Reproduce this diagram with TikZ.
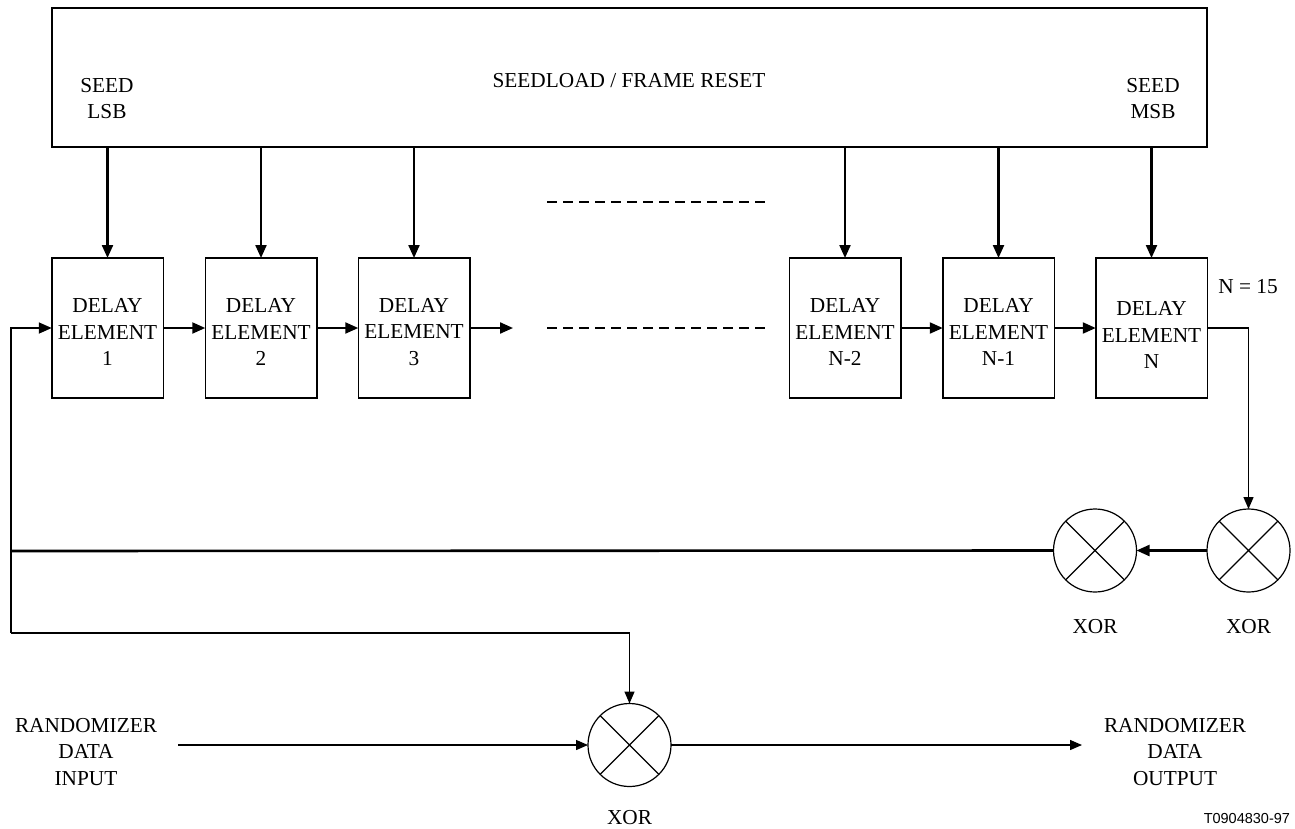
\documentclass[tikz,border=0pt]{standalone}
\usepackage{fontspec}
\setmainfont{Liberation Serif}
\newfontfamily\tagfont{Liberation Sans}
\usetikzlibrary{arrows.meta}

\begin{document}
\begin{tikzpicture}[x=1pt,y=-1pt,
  every node/.style={font=\fontsize{21.3}{26.7}\selectfont, align=center, inner sep=0pt, outer sep=0pt},
  block/.style={draw, line width=1.5pt, minimum width=111.5pt, minimum height=140pt},
  xorgate/.style={draw, circle, line width=1.2pt, minimum size=83pt},
  bigtip/.style={-{Triangle[length=13pt,width=11pt]}},
  smalltip/.style={-{Triangle[length=12pt,width=10pt]}},
  heavy/.style={line width=2.2pt},
  light/.style={line width=1.4pt}
]
\useasboundingbox (0,0) rectangle (1295,828);

% seed-load / frame-reset register
\node[draw, line width=1.5pt, minimum width=1155pt, minimum height=139pt] (top) at (629.5,77.5) {};
\node (lsb) at (107,98.5) {SEED\\LSB};
\node (msb) at (1153,98.5) {SEED\\MSB};
\node (reset) at (629,81) {SEEDLOAD / FRAME RESET};

% shift-register stages
\node[block] (d1) at (107.5,328) {};
\node[block] (d2) at (261,328) {};
\node[block] (d3) at (414,328) {};
\node[block] (dn2) at (845,328) {};
\node[block] (dn1) at (998.5,328) {};
\node[block] (dn) at (1151.5,328) {};

\node (t1) at ([yshift=-4pt]d1.center) {DELAY\\ELEMENT\\1};
\node (t2) at ([yshift=-4pt]d2.center) {DELAY\\ELEMENT\\2};
\node (t3) at ([yshift=-4pt]d3.center) {DELAY\\ELEMENT\\3};
\node (tn2) at ([yshift=-4pt]dn2.center) {DELAY\\ELEMENT\\N-2};
\node (tn1) at ([yshift=-4pt]dn1.center) {DELAY\\ELEMENT\\N-1};
\node (tn) at ([yshift=-7pt]dn.center) {DELAY\\ELEMENT\\N};
\node (nval) at (1248,287) {N = 15};

% seed loading
\foreach \d in {d1,d2,d3,dn2,dn1,dn}
  \draw[heavy,bigtip] (top.south -| \d.north) -- (\d.north);

% shift chain
\coordinate (c3) at (513,328);
\draw[heavy,bigtip] (d1.east) -- (d2.west);
\draw[heavy,bigtip] (d2.east) -- (d3.west);
\draw[heavy,bigtip] (d3.east) -- (c3);
\draw[heavy,bigtip] (dn2.east) -- (dn1.west);
\draw[heavy,bigtip] (dn1.east) -- (dn.west);

% omitted stages
\draw[line width=1.7pt, dash pattern=on 10pt off 6pt] (547,202) -- (769,202);
\draw[line width=1.7pt, dash pattern=on 10pt off 6pt] (547,328) -- (769,328);

% XOR gates
\node[xorgate] (xa) at (1095,550.5) {};
\node[xorgate] (xb) at (1248.5,550.5) {};
\node[xorgate] (xc) at (629.5,745) {};
\foreach \g in {xa,xb,xc}
  \draw[line width=1.2pt] (\g.north west) -- (\g.south east) (\g.north east) -- (\g.south west);
\node (la) at (1095,627) {XOR};
\node (lb) at (1248.5,627) {XOR};
\node (lc) at (629.5,818) {XOR};

% feedback
\coordinate (fbL) at (11,551);
\coordinate (fbB) at (11,633);
\draw[light,smalltip] (dn.east) -| (xb.north);
\draw[heavy,bigtip] (xb.west) -- (xa.east);
\draw[line width=2.6pt] (xa.west) -- (fbL);
\draw[line width=1.8pt,bigtip] (fbB) |- (d1.west);
\draw[light,smalltip] (fbB) -| (xc.north);

% data path
\node (in) at (86,752) {RANDOMIZER\\DATA\\INPUT};
\node (out) at (1175,752) {RANDOMIZER\\DATA\\OUTPUT};
\coordinate (inS) at (178,745);
\coordinate (outE) at (1082,745);
\draw[light,smalltip] (inS) -- (xc.west);
\draw[light,smalltip] (xc.east) -- (outE);

\node[anchor=east, font=\tagfont\fontsize{14.5}{17}\selectfont] (tag) at (1290,818) {T0904830-97};
\end{tikzpicture}
\end{document}
